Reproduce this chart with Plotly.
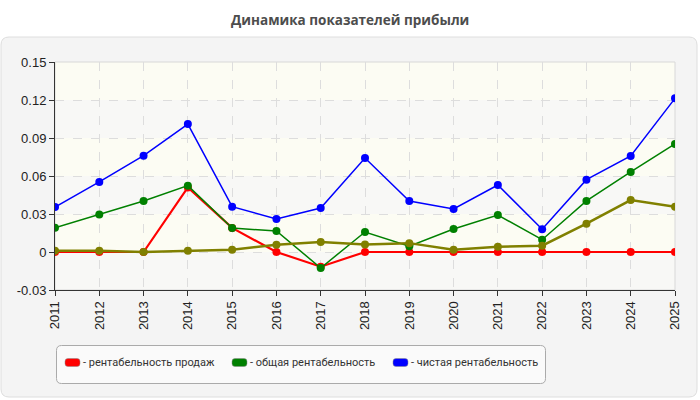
import plotly.graph_objects as go

years = [str(y) for y in range(2011, 2026)]
sales_profitability = [0.0, 0.0, 0.0, 0.051, 0.019, 0.0, -0.0116, 0.0, 0.0, 0.0, 0.0, 0.0, 0.0, 0.0, 0.0]
total_profitability = [0.0192, 0.0297, 0.0403, 0.0524, 0.0189, 0.0166, -0.0126, 0.0158, 0.0045, 0.0182, 0.0292, 0.0097, 0.0403, 0.0632, 0.0853]
net_profitability = [0.0355, 0.0553, 0.076, 0.101, 0.0358, 0.026, 0.0347, 0.0742, 0.0403, 0.034, 0.0529, 0.018, 0.0571, 0.0758, 0.1213]
other_series = [0.001, 0.001, 0.0, 0.001, 0.0018, 0.0058, 0.0079, 0.006, 0.007, 0.0018, 0.0042, 0.005, 0.0224, 0.041, 0.0358]
y_ticks = [-0.03, 0, 0.03, 0.06, 0.09, 0.12, 0.15]
y_tick_text = ["-0.03", "0", "0.03", "0.06", "0.09", "0.12", "0.15"]
legend_names = ["- рентабельность продаж", "- общая рентабельность", "- чистая рентабельность"]
title = "Динамика показателей прибыли"

W, H = 700, 400
L, R, T, B = 55, 25, 62, 110
PW, PH = W - L - R, H - T - B


def px(x):
    return (x - L) / PW


def py(y):
    return (H - B - y) / PH


def rounded(x0, y0, x1, y1, r):
    rx, ry = r / PW, r / PH
    X0, X1 = px(x0), px(x1)
    Y0, Y1 = py(y1), py(y0)  # bottom, top in paper
    return (f"M {X0+rx} {Y0} L {X1-rx} {Y0} Q {X1} {Y0} {X1} {Y0+ry} "
            f"L {X1} {Y1-ry} Q {X1} {Y1} {X1-rx} {Y1} L {X0+rx} {Y1} "
            f"Q {X0} {Y1} {X0} {Y1-ry} L {X0} {Y0+ry} Q {X0} {Y0} {X0+rx} {Y0} Z")


fig = go.Figure()

series = [
    (sales_profitability, "red", 2.2),
    (total_profitability, "green", 1.5),
    (net_profitability, "blue", 1.5),
    (other_series, "#808000", 2.5),
]
for vals, col, w in series:
    fig.add_trace(go.Scatter(x=years, y=vals, mode="lines+markers",
                             line=dict(color=col, width=w),
                             marker=dict(color=col, size=8),
                             showlegend=False, hoverinfo="skip"))

shapes = []
# panel background
shapes.append(dict(type="path", xref="paper", yref="paper", layer="below",
                   path=rounded(1, 37, 697, 397, 8),
                   fillcolor="#f4f4f4", line=dict(color="#dedede", width=1)))
# plot area bands
for i in range(6):
    lo = y_ticks[i]
    hi = y_ticks[i + 1]
    shapes.append(dict(type="rect", xref="paper", yref="y", layer="below",
                       x0=0, x1=1, y0=lo, y1=hi,
                       fillcolor="#fcfcf3" if i % 2 == 1 else "#f8f8f6",
                       line=dict(width=0)))
# plot border (light)
shapes.append(dict(type="rect", xref="paper", yref="paper", layer="below",
                   x0=0, x1=1, y0=0, y1=1, line=dict(color="#d8d8d8", width=1)))
# legend box
shapes.append(dict(type="path", xref="paper", yref="paper", layer="above",
                   path=rounded(56.5, 345.5, 545.5, 383.5, 5),
                   fillcolor="#fafafa", line=dict(color="#aaaaaa", width=1)))

annotations = [dict(text=f"<b>{title}</b>", xref="paper", yref="paper",
                    x=px(350), y=py(20), showarrow=False, yanchor="middle",
                    font=dict(family="Open Sans", size=13.5, color="#4d4d4d"))]

legend_colors = ["red", "green", "blue"]
swatch_x = [65, 232, 393]
for name, col, sx in zip(legend_names, legend_colors, swatch_x):
    shapes.append(dict(type="path", xref="paper", yref="paper", layer="above",
                       path=rounded(sx, 358.5, sx + 15, 366.5, 3),
                       fillcolor=col, line=dict(color="#888888", width=0.5)))
    annotations.append(dict(text=name, xref="paper", yref="paper",
                            x=px(sx + 16), y=py(362), xanchor="left", yanchor="middle",
                            showarrow=False,
                            font=dict(family="Roboto", size=11, color="#333333")))

fig.update_layout(
    width=W, height=H,
    margin=dict(l=L, r=R, t=T, b=B),
    paper_bgcolor="white",
    plot_bgcolor="rgba(0,0,0,0)",
    shapes=shapes,
    annotations=annotations,
    showlegend=False,
    font=dict(family="Liberation Sans", size=13, color="#222222"),
)
fig.update_xaxes(type="category", range=[0, 14], tickangle=-90,
                 showline=True, linecolor="#333333", linewidth=1,
                 ticks="outside", ticklen=5, tickcolor="#333333",
                 showgrid=True, gridcolor="#dddddd", griddash="dash", gridwidth=1,
                 tickfont=dict(family="Liberation Sans", size=13, color="#222222"),
                 zeroline=False)
fig.update_yaxes(range=[-0.03, 0.15], tickvals=y_ticks, ticktext=y_tick_text,
                 showline=True, linecolor="#333333", linewidth=1,
                 ticks="outside", ticklen=5, tickcolor="#333333",
                 showgrid=True, gridcolor="#dddddd", griddash="dash", gridwidth=1,
                 tickfont=dict(family="Liberation Sans", size=13, color="#222222"),
                 zeroline=False)

fig.write_html("out.html")
